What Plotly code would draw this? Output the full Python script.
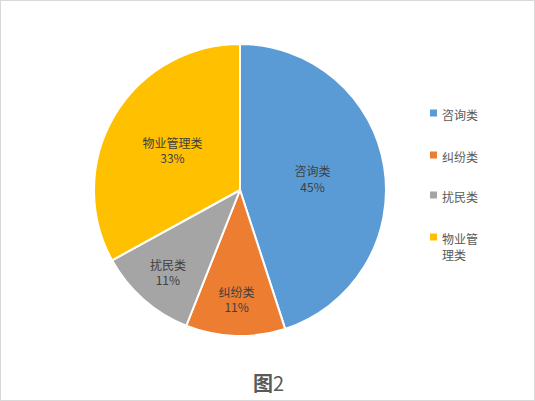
import plotly.graph_objects as go

categories = ["咨询类", "纠纷类", "扰民类", "物业管理类"]
values = [45, 11, 11, 33]
legend_labels = ["咨询类", "纠纷类", "扰民类", "物业管<br>理类"]
colors = ["#5B9BD5", "#ED7D31", "#A5A5A5", "#FFC000"]

W, H = 535, 401
font = "Noto Sans CJK SC, Microsoft YaHei, sans-serif"

fig = go.Figure()
fig.add_trace(go.Pie(
    labels=categories, values=values, sort=False, direction="clockwise", rotation=0,
    marker=dict(colors=colors, line=dict(color="white", width=2)),
    textinfo="label+percent", textposition="inside", insidetextorientation="horizontal",
    texttemplate="%{label}<br>%{percent:.0%}",
    textfont=dict(family=font, size=12, color="#404040"),
    domain=dict(x=[94/W, 386/W], y=[1-336/H, 1-44/H]),
    showlegend=False, hoverinfo="label+percent",
))

shapes = [dict(type="rect", xref="paper", yref="paper", x0=0, x1=1, y0=0, y1=1,
               line=dict(color="#D9D9D9", width=2), fillcolor="rgba(0,0,0,0)")]
annotations = []
legend_y = [113, 155, 195, 237]
for lab, col, yy in zip(legend_labels, colors, legend_y):
    shapes.append(dict(type="rect", xref="paper", yref="paper",
                       x0=430/W, x1=437/W, y0=1-(yy+3.5)/H, y1=1-(yy-3.5)/H,
                       line=dict(width=0), fillcolor=col))
    annotations.append(dict(xref="paper", yref="paper", x=440/W, y=1-(yy-9)/H,
                            xanchor="left", yanchor="top", align="left", showarrow=False,
                            text=lab, font=dict(family=font, size=12, color="#595959")))
annotations.append(dict(xref="paper", yref="paper", x=268/W, y=1-382/H, xanchor="center",
                        yanchor="middle", showarrow=False, text="<b>图</b>2",
                        font=dict(family=font, size=20, color="#595959")))

fig.update_layout(width=W, height=H, autosize=False, margin=dict(l=0, r=0, t=0, b=0),
                  paper_bgcolor="white", plot_bgcolor="white",
                  shapes=shapes, annotations=annotations, showlegend=False)
fig.write_html("out.html", config={"displayModeBar": False},
               post_script="document.body.style.margin='0';document.body.style.overflow='hidden';")
